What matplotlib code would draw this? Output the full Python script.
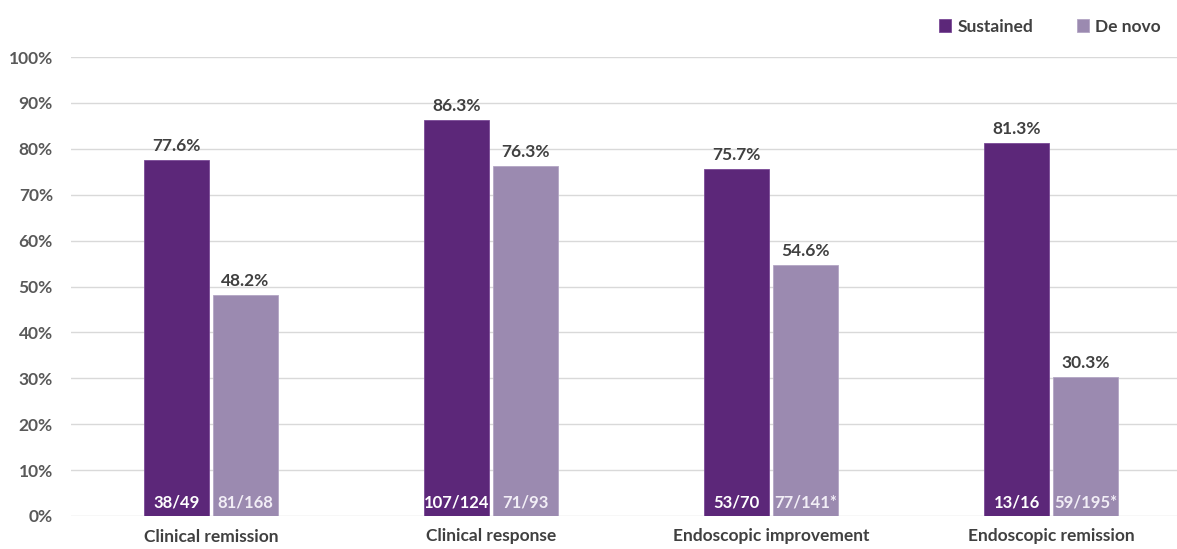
import matplotlib
matplotlib.use("Agg")
import matplotlib.pyplot as plt
import numpy as np

categories = ["Clinical remission", "Clinical response", "Endoscopic improvement", "Endoscopic remission"]
sustained = [77.6, 86.3, 75.7, 81.3]
de_novo = [48.2, 76.3, 54.6, 30.3]
sustained_n = ["38/49", "107/124", "53/70", "13/16"]
de_novo_n = ["81/168", "71/93", "77/141*", "59/195*"]
series_names = ["Sustained", "De novo"]
yticks = [0, 10, 20, 30, 40, 50, 60, 70, 80, 90, 100]

c_sus = "#5C2779"
c_dn = "#9B8AB0"
c_txt = "#404040"
c_tick = "#595959"

plt.rcParams['font.family'] = ['Lato', 'DejaVu Sans']

fig = plt.figure(figsize=(11.77, 5.49), dpi=100)
W, H = 1177, 549
x0, x1 = 71, 1177
yb, yt = 516, 57
ax = fig.add_axes([x0 / W, 1 - yb / H, (x1 - x0) / W, (yb - yt) / H])

x = np.arange(len(categories))
w = 0.232
off = 0.1232
b1 = ax.bar(x - off, sustained, w, color=c_sus, edgecolor="#7a4a96", linewidth=0.6, zorder=3)
b2 = ax.bar(x + off, de_novo, w, color=c_dn, edgecolor="#b3a6c4", linewidth=0.6, zorder=3)

ax.set_xlim(-0.5, -0.5 + (x1 - x0) / 280)
ax.set_ylim(0, 100)
ax.set_yticks(yticks)
ax.set_yticklabels([f"{t}%" for t in yticks], fontsize=12.5, fontweight="bold", color=c_tick)
ax.yaxis.grid(True, color="#D9D9D9", linewidth=1, zorder=0)
ax.set_axisbelow(True)
ax.tick_params(axis="y", length=0, pad=13)
ax.tick_params(axis="x", length=0, pad=9)
ax.set_xticks(x)
ax.set_xticklabels(categories, fontsize=12.5, fontweight="bold", color=c_txt)
for s in ax.spines.values():
    s.set_visible(False)

for xi, v, n in zip(x - off, sustained, sustained_n):
    ax.text(xi, v + 1.3, f"{v:.1f}%", ha="center", va="bottom", fontsize=12.5, fontweight="bold", color=c_txt)
    ax.text(xi, 1.3, n, ha="center", va="bottom", fontsize=12, fontweight="bold", color="white", zorder=4)
for xi, v, n in zip(x + off, de_novo, de_novo_n):
    ax.text(xi, v + 1.3, f"{v:.1f}%", ha="center", va="bottom", fontsize=12.5, fontweight="bold", color=c_txt)
    ax.text(xi, 1.3, n, ha="center", va="bottom", fontsize=12, fontweight="bold", color="#f2eef6", zorder=4)

leg = fig.legend([b1, b2], series_names, loc="upper right", bbox_to_anchor=(1176 / W, 1 - 3 / H),
                 ncol=2, frameon=False, handlelength=0.7, handleheight=0.7, handletextpad=0.35,
                 columnspacing=2.5, prop={"size": 12.5, "weight": "bold"})
for t in leg.get_texts():
    t.set_color(c_txt)

fig.savefig("out.png", dpi=100)
